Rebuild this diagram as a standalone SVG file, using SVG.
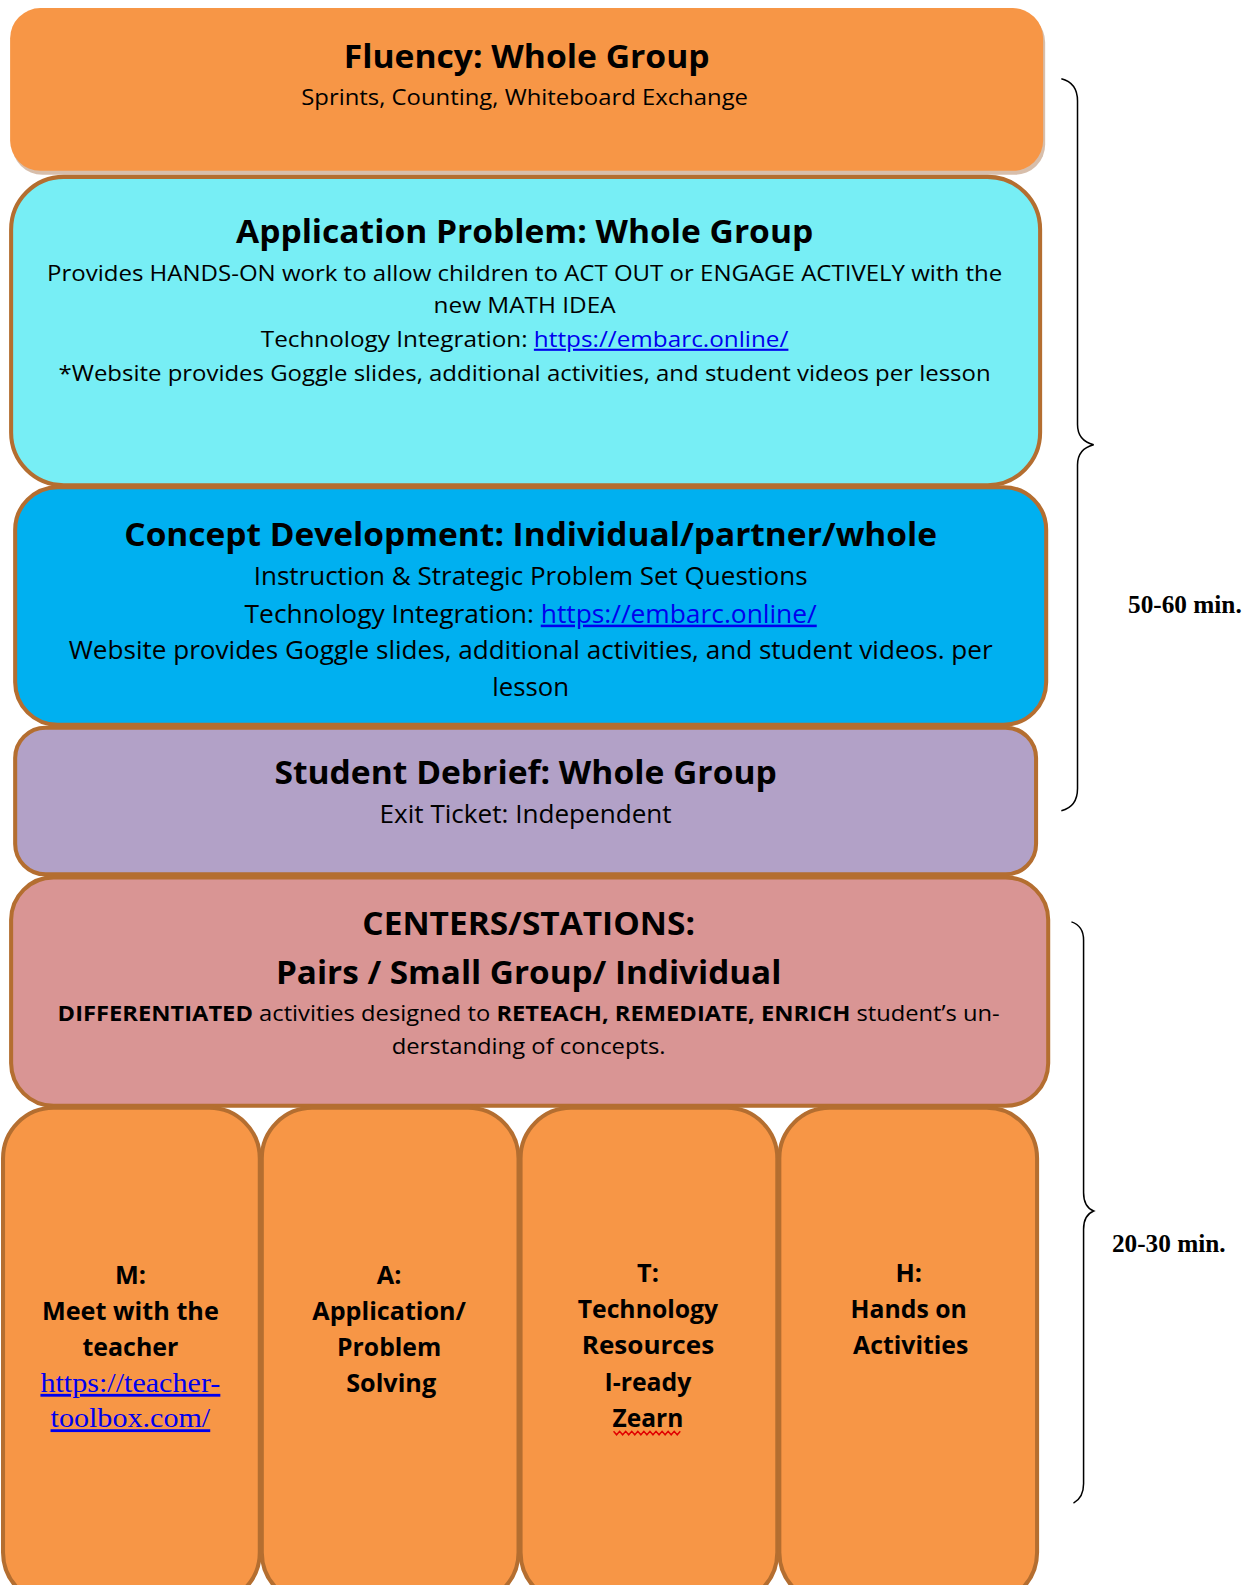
<svg xmlns="http://www.w3.org/2000/svg" width="1257" height="1585" viewBox="0 0 1257 1585">
<defs>
<style>
.box{stroke:#B46E30;stroke-width:4}
.t{font-family:"Open Sans","Liberation Sans",sans-serif;fill:#000;text-anchor:middle}
.h{font-size:32px;font-weight:bold}
.s{font-size:21px}
.m{font-size:25px}
.b{font-size:25px;font-weight:bold}
.lk{fill:#0000EE;text-decoration:underline}
.ser{font-family:"Liberation Serif","Times New Roman",serif;text-anchor:middle}
.dur{font-family:"Liberation Serif","Times New Roman",serif;font-size:25px;font-weight:bold;text-anchor:start;fill:#000}
.brace{fill:none;stroke:#000;stroke-width:1.5}
</style>
</defs>
<rect width="1257" height="1585" fill="#fff"/>
<g transform="scale(1.0108)">
<g id="fluency">
<rect x="12" y="12" width="1022" height="161" rx="30" fill="#CDAE96" opacity="0.8"/>
<rect x="10" y="8" width="1022" height="161" rx="30" fill="#F79646"/>
<text class="t h" x="521" y="67" textLength="362" lengthAdjust="spacingAndGlyphs">Fluency:  Whole Group</text>
<text class="t s" x="519" y="104" textLength="442" lengthAdjust="spacingAndGlyphs">Sprints, Counting, Whiteboard  Exchange</text>
</g>

<g id="application">
<rect class="box" x="11" y="175" width="1018" height="305" rx="52" fill="#77EEF5"/>
<text class="t h" x="519" y="240" textLength="571" lengthAdjust="spacingAndGlyphs">Application Problem: Whole Group</text>
<text class="t s" x="519" y="278" textLength="945" lengthAdjust="spacingAndGlyphs">Provides HANDS-ON work to allow children to ACT OUT or ENGAGE ACTIVELY with the</text>
<text class="t s" x="519" y="310" textLength="180" lengthAdjust="spacingAndGlyphs">new MATH IDEA</text>
<text class="t s" x="519" y="343" textLength="522" lengthAdjust="spacingAndGlyphs">Technology Integration: <tspan class="lk">https://embarc.online/</tspan></text>
<text class="t s" x="519" y="377" textLength="922" lengthAdjust="spacingAndGlyphs">*Website provides Goggle slides, additional activities, and student videos per lesson</text>
</g>

<g id="concept">
<rect class="box" x="15" y="482" width="1020" height="235" rx="42" fill="#00B0F0"/>
<text class="t h" x="525" y="540" textLength="804" lengthAdjust="spacingAndGlyphs">Concept Development: Individual/partner/whole</text>
<text class="t m" x="525" y="579" textLength="548" lengthAdjust="spacingAndGlyphs">Instruction &amp; Strategic Problem Set Questions</text>
<text class="t m" x="525" y="616" textLength="566" lengthAdjust="spacingAndGlyphs">Technology Integration: <tspan class="lk">https://embarc.online/</tspan></text>
<text class="t m" x="525" y="652" textLength="914" lengthAdjust="spacingAndGlyphs">Website provides Goggle slides, additional activities, and student videos. per</text>
<text class="t m" x="525" y="689" textLength="76" lengthAdjust="spacingAndGlyphs">lesson</text>
</g>

<g id="debrief">
<rect class="box" x="15" y="720" width="1010" height="145" rx="30" fill="#B2A1C7"/>
<text class="t h" x="520" y="776" textLength="497" lengthAdjust="spacingAndGlyphs">Student Debrief: Whole Group</text>
<text class="t m" x="520" y="814" textLength="289" lengthAdjust="spacingAndGlyphs">Exit Ticket: Independent</text>
</g>

<g id="centers">
<rect class="box" x="11" y="868" width="1026" height="226" rx="42" fill="#D99594"/>
<text class="t h" x="523" y="925" textLength="329" lengthAdjust="spacingAndGlyphs">CENTERS/STATIONS:</text>
<text class="t h" x="523" y="973" textLength="500" lengthAdjust="spacingAndGlyphs">Pairs / Small Group/ Individual</text>
<text class="t s" x="523" y="1010" textLength="932" lengthAdjust="spacingAndGlyphs"><tspan font-weight="bold">DIFFERENTIATED</tspan> activities designed to <tspan font-weight="bold">RETEACH, REMEDIATE, ENRICH</tspan> student’s un-</text>
<text class="t s" x="523" y="1043" textLength="271" lengthAdjust="spacingAndGlyphs">derstanding of concepts.</text>
</g>

<g id="col-m">
<rect class="box" x="3" y="1096" width="254" height="490" rx="50" fill="#F79646"/>
<text class="t b" x="129" y="1270">M:</text>
<text class="t b" x="129" y="1306" textLength="175" lengthAdjust="spacingAndGlyphs">Meet with the</text>
<text class="t b" x="129" y="1342" textLength="95" lengthAdjust="spacingAndGlyphs">teacher</text>
<text class="ser lk" x="129" y="1377" font-size="28" textLength="178" lengthAdjust="spacingAndGlyphs">https://teacher-</text>
<text class="ser lk" x="129" y="1412" font-size="28" textLength="158" lengthAdjust="spacingAndGlyphs">toolbox.com/</text>
</g>

<g id="col-a">
<rect class="box" x="259" y="1096" width="254" height="490" rx="50" fill="#F79646"/>
<text class="t b" x="385" y="1270">A:</text>
<text class="t b" x="385" y="1306" textLength="152" lengthAdjust="spacingAndGlyphs">Application/</text>
<text class="t b" x="385" y="1342" textLength="103" lengthAdjust="spacingAndGlyphs">Problem</text>
<text class="t b" x="387" y="1377" textLength="89" lengthAdjust="spacingAndGlyphs">Solving</text>
</g>

<g id="col-t">
<rect class="box" x="515" y="1096" width="254" height="490" rx="50" fill="#F79646"/>
<text class="t b" x="641" y="1268">T:</text>
<text class="t b" x="641" y="1304" textLength="139" lengthAdjust="spacingAndGlyphs">Technology</text>
<text class="t b" x="641" y="1340" textLength="131" lengthAdjust="spacingAndGlyphs">Resources</text>
<text class="t b" x="641" y="1376" textLength="86" lengthAdjust="spacingAndGlyphs">I-ready</text>
<text class="t b" x="641" y="1412" textLength="70" lengthAdjust="spacingAndGlyphs">Zearn</text>
<path d="M607 1416 l3 3.5 l3 -3.5 l3 3.5 l3 -3.5 l3 3.5 l3 -3.5 l3 3.5 l3 -3.5 l3 3.5 l3 -3.5 l3 3.5 l3 -3.5 l3 3.5 l3 -3.5 l3 3.5 l3 -3.5 l3 3.5 l3 -3.5 l3 3.5 l3 -3.5 l3 3.5 l3 -3.5" fill="none" stroke="#E00000" stroke-width="1.4"/>
</g>

<g id="col-h">
<rect class="box" x="771" y="1096" width="255" height="490" rx="50" fill="#F79646"/>
<text class="t b" x="899" y="1268">H:</text>
<text class="t b" x="899" y="1304" textLength="115" lengthAdjust="spacingAndGlyphs">Hands on</text>
<text class="t b" x="901" y="1340" textLength="114" lengthAdjust="spacingAndGlyphs">Activities</text>
</g>

<g id="connectors">
<path class="brace" d="M1050 78 Q1066 82 1066 100 L1066 420 Q1066 436 1082 440 Q1066 444 1066 460 L1066 780 Q1066 798 1050 802"/>
<path class="brace" d="M1060 912 Q1072 916 1072 930 L1072 1180 Q1072 1194 1082 1198 Q1072 1202 1072 1216 L1072 1468 Q1072 1482 1062 1487"/>
<text class="dur" x="1116" y="606">50-60 min.</text>
<text class="dur" x="1100" y="1239">20-30 min.</text>
</g>
</g>
</svg>
